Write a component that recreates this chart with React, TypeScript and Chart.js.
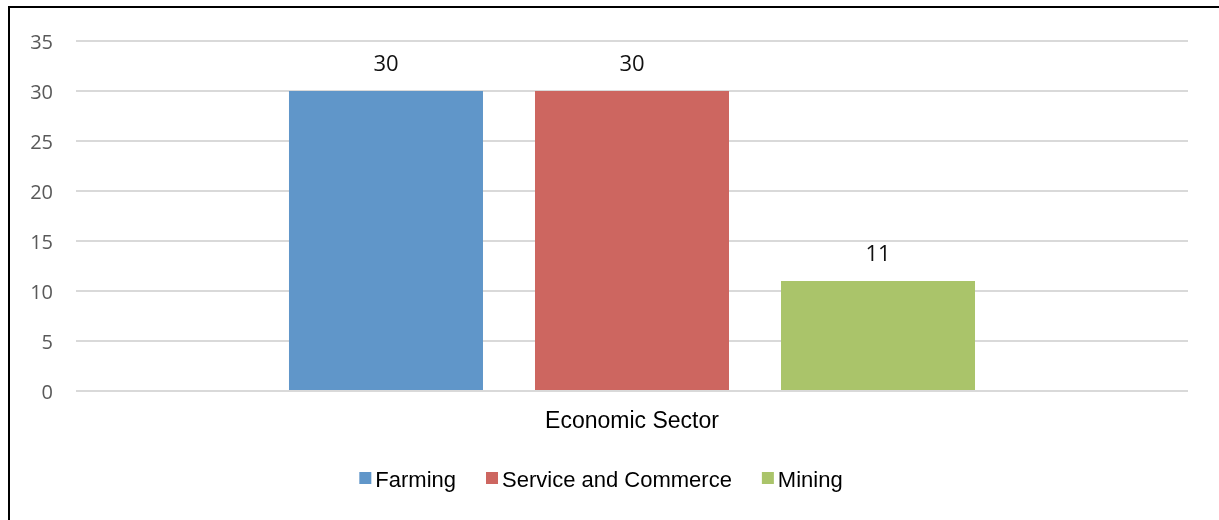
import React, { useEffect, useRef } from "react";
import { Chart, registerables } from "chart.js";

Chart.register(...registerables);

const categories = ["Economic Sector"];
const seriesNames = ["Farming", "Service and Commerce", "Mining"];
const farmingValues = [30];
const serviceValues = [30];
const miningValues = [11];
const seriesColors = ["#6096C9", "#CD6660", "#AAC46A"];
const yTicks = { min: 0, max: 35, step: 5 };

const frameBorder = {
  id: "frameBorder",
  beforeDraw(chart: any) {
    const ctx = chart.ctx;
    ctx.save();
    ctx.fillStyle = "#000";
    ctx.fillRect(8, 6, 2, chart.height);
    ctx.fillRect(8, 6, chart.width, 2);
    ctx.restore();
  },
};

const valueLabels = {
  id: "valueLabels",
  afterDatasetsDraw(chart: any) {
    const ctx = chart.ctx;
    ctx.save();
    ctx.font = '22px "Open Sans"';
    ctx.fillStyle = "#111";
    ctx.textAlign = "center";
    ctx.textBaseline = "middle";
    chart.data.datasets.forEach((ds: any, i: number) => {
      const meta = chart.getDatasetMeta(i);
      meta.data.forEach((el: any, j: number) => {
        ctx.fillText(String(ds.data[j]), el.x, el.y - 26);
      });
    });
    ctx.restore();
  },
};

const customLegend = {
  id: "customLegend",
  afterDraw(chart: any) {
    const ctx = chart.ctx;
    ctx.save();
    ctx.font = '22px "Liberation Sans", Arial, sans-serif';
    const box = 12;
    const gapText = 4;
    const gapItem = 30;
    const items = chart.data.datasets.map((ds: any) => ({
      text: ds.label,
      color: ds.backgroundColor,
      w: ctx.measureText(ds.label).width,
    }));
    const total =
      items.reduce((s: number, it: any) => s + box + gapText + it.w, 0) +
      gapItem * (items.length - 1);
    let x = 601 - total / 2;
    const boxTop = 472;
    const baseline = 487;
    ctx.textBaseline = "alphabetic";
    ctx.textAlign = "left";
    items.forEach((it: any) => {
      ctx.fillStyle = it.color;
      ctx.fillRect(x, boxTop, box, box);
      ctx.fillStyle = "#000";
      ctx.fillText(it.text, x + box + gapText, baseline);
      x += box + gapText + it.w + gapItem;
    });
    ctx.restore();
  },
};

export default function App() {
  const ref = useRef<HTMLCanvasElement>(null);

  useEffect(() => {
    if (!ref.current) return;
    const values = [farmingValues, serviceValues, miningValues];
    const chart = new Chart(ref.current, {
      type: "bar",
      data: {
        labels: categories,
        datasets: seriesNames.map((name, i) => ({
          label: name,
          data: values[i],
          backgroundColor: seriesColors[i],
          borderWidth: 0,
          categoryPercentage: 0.6637,
          barPercentage: 0.7886,
        })),
      },
      options: {
        responsive: false,
        animation: false,
        layout: { padding: { left: 0, right: 31, top: 41, bottom: 0 } },
        plugins: {
          legend: { display: false },
          tooltip: { enabled: false },
          title: { display: false },
        },
        scales: {
          x: {
            grid: { display: false, drawTicks: false },
            border: { display: false },
            ticks: {
              padding: 17,
              color: "#000",
              font: { family: '"Liberation Sans", Arial, sans-serif', size: 23 },
            },
            afterFit(scale: any) {
              scale.height = 129;
            },
          },
          y: {
            min: yTicks.min,
            max: yTicks.max,
            grid: { color: "#d9d9d9", lineWidth: 2, drawTicks: false },
            border: { display: false },
            ticks: {
              stepSize: yTicks.step,
              padding: 23,
              labelOffset: 2,
              color: "#595959",
              font: { family: '"Open Sans"', size: 20 },
            },
            afterFit(scale: any) {
              scale.width = 76;
            },
          },
        },
      },
      plugins: [frameBorder, valueLabels, customLegend],
    });
    return () => chart.destroy();
  }, []);

  return (
    <div style={{ position: "fixed", left: 0, top: 0, width: 1219, height: 520, background: "#fff" }}>
      <canvas ref={ref} width={1219} height={520} style={{ display: "block" }} />
    </div>
  );
}
